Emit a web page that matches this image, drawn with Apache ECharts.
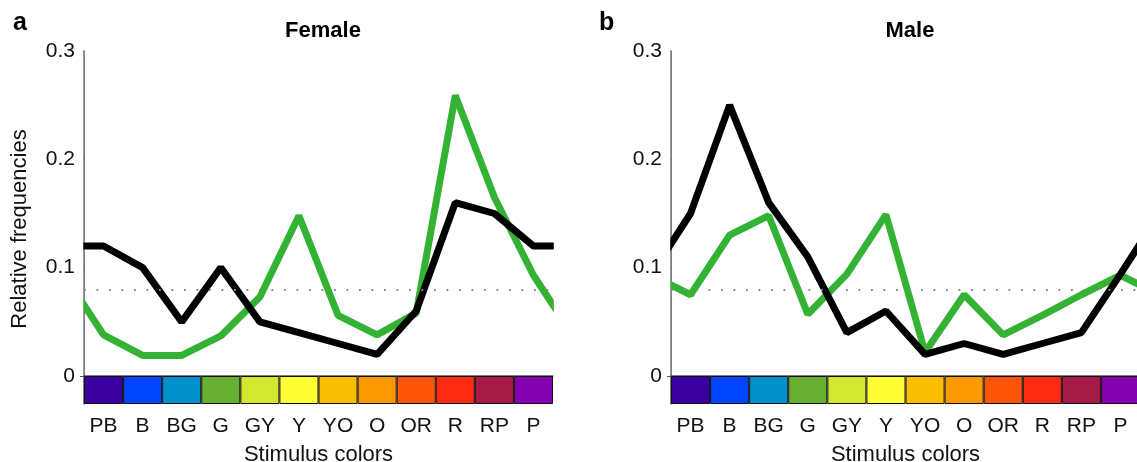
<!DOCTYPE html>
<html>
<head>
<meta charset="utf-8">
<script src="https://cdn.jsdelivr.net/npm/echarts@6/dist/echarts.min.js"></script>
<style>
  html, body { margin: 0; padding: 0; background: #fff; }
  #chart { width: 1137px; height: 462px; }
</style>
</head>
<body>
<div id="chart"></div>
<script>
// stimulus colour categories (hue circle, PB ... P)
var categories = ['PB', 'B', 'BG', 'G', 'GY', 'Y', 'YO', 'O', 'OR', 'R', 'RP', 'P'];
var swatchColors = ['#3d00a0', '#0044ff', '#0091cc', '#67b032', '#d2e82c', '#ffff33',
                    '#fbbd00', '#fb9900', '#ff5508', '#ff2a14', '#a61a48', '#8400ae'];
var yTicks = [0, 0.1, 0.2, 0.3];
var chanceLevel = 1 / 12;

// relative frequencies
var femaleGreen = [0.038, 0.019, 0.019, 0.037, 0.073, 0.148, 0.056, 0.038, 0.058, 0.259, 0.165, 0.093];
var femaleBlack = [0.120, 0.100, 0.050, 0.100, 0.050, 0.040, 0.030, 0.020, 0.060, 0.160, 0.150, 0.120];
var maleGreen   = [0.075, 0.130, 0.148, 0.057, 0.094, 0.149, 0.022, 0.075, 0.038, 0.056, 0.075, 0.093];
var maleBlack   = [0.150, 0.250, 0.160, 0.110, 0.040, 0.060, 0.020, 0.030, 0.020, 0.030, 0.040, 0.094];

var font = "'Liberation Sans', Arial, Helvetica, sans-serif";

// hue axis is circular: repeat last/first value outside the range, grid clips it
function wrap(vals) {
  var out = [[-1, vals[vals.length - 1]]];
  vals.forEach(function (v, i) { out.push([i, v]); });
  out.push([vals.length, vals[0]]);
  return out;
}

var panels = [
  { left: 84, green: femaleGreen, black: femaleBlack },
  { left: 671, green: maleGreen, black: maleBlack }
];
var plotW = 469, plotTop = 51, plotH = 325, swTop = 376, swH = 28;

var grid = [], xAxis = [], yAxis = [], series = [], masks = [];

panels.forEach(function (p, k) {
  var gMain = k * 2, gSw = k * 2 + 1;
  grid.push({ left: p.left, top: plotTop, width: plotW, height: plotH, outerBoundsMode: 'none' });
  grid.push({ left: p.left, top: swTop, width: plotW, height: swH, outerBoundsMode: 'none' });

  xAxis.push({
    gridIndex: gMain, type: 'value', min: -0.5, max: 11.5,
    axisLine: { show: true, onZero: false, lineStyle: { color: '#555', width: 1.5 } },
    axisTick: { show: false }, axisLabel: { show: false }, splitLine: { show: false }
  });
  xAxis.push({
    gridIndex: gSw, type: 'category', data: categories,
    name: 'Stimulus colors', nameLocation: 'middle', nameGap: 40,
    nameTextStyle: { fontSize: 22, color: '#111', fontFamily: font },
    axisLine: { show: false }, axisTick: { show: false },
    axisLabel: { interval: 0, fontSize: 21, color: '#111', fontFamily: font, margin: 12 }
  });

  yAxis.push({
    gridIndex: gMain, type: 'value', min: 0, max: 0.3, interval: 0.1,
    axisLine: { show: true, onZero: false, lineStyle: { color: '#555', width: 1.5 } },
    axisTick: { show: true, length: 4, lineStyle: { color: '#555' } },
    axisLabel: { fontSize: 21, color: '#111', fontFamily: font, margin: 9,
      formatter: function (v) { var r = Math.round(v * 10) / 10; return yTicks.indexOf(r) >= 0 ? String(r) : ''; } },
    splitLine: { show: false }
  });
  yAxis.push({
    gridIndex: gSw, type: 'value', min: 0, max: 1,
    axisLine: { show: true, onZero: false, lineStyle: { color: '#555', width: 1.5 } },
    axisTick: { show: false }, axisLabel: { show: false }, splitLine: { show: false }
  });

  series.push({
    type: 'bar', xAxisIndex: gSw, yAxisIndex: gSw,
    barCategoryGap: '0%', silent: true,
    data: swatchColors.map(function (c) {
      return { value: 1, itemStyle: { color: c, borderColor: '#111', borderWidth: 1 } };
    })
  });
  series.push({
    type: 'line', xAxisIndex: gMain, yAxisIndex: gMain,
    data: wrap(p.green), symbol: 'none', clip: true,
    lineStyle: { color: '#33b233', width: 7 },
    markLine: {
      silent: true, symbol: 'none', label: { show: false },
      lineStyle: { color: '#888', width: 1.8, type: [1.8, 10.7] },
      data: [{ yAxis: chanceLevel }]
    }
  });
  series.push({
    type: 'line', xAxisIndex: gMain, yAxisIndex: gMain,
    data: wrap(p.black), symbol: 'none', clip: true,
    lineStyle: { color: '#000', width: 7 }
  });

  // hide the line-width overflow of the clip box at the plot edges
  masks.push({ type: 'rect', z: 100, silent: true,
    shape: { x: p.left - 6, y: plotTop - 6, width: 5.2, height: plotH + 6 }, style: { fill: '#fff' } });
  masks.push({ type: 'rect', z: 100, silent: true,
    shape: { x: p.left + plotW + 0.8, y: plotTop - 6, width: 6, height: plotH + 6 }, style: { fill: '#fff' } });
});

var chart = echarts.init(document.getElementById('chart'));
chart.setOption({
  animation: false,
  textStyle: { fontFamily: font },
  title: [
    { text: 'a', left: 8, top: 6, textStyle: { fontSize: 25, fontWeight: 'bold', color: '#000', fontFamily: font } },
    { text: 'b', left: 594, top: 6, textStyle: { fontSize: 25, fontWeight: 'bold', color: '#000', fontFamily: font } },
    { text: 'Female', left: 318, top: 15, textAlign: 'center', textStyle: { fontSize: 22, fontWeight: 'bold', color: '#000', fontFamily: font } },
    { text: 'Male', left: 905, top: 15, textAlign: 'center', textStyle: { fontSize: 22, fontWeight: 'bold', color: '#000', fontFamily: font } }
  ],
  graphic: masks.concat([{
    type: 'text', x: 20, y: 229, rotation: Math.PI / 2,
    style: { text: 'Relative frequencies', fontSize: 22, fill: '#111', fontFamily: font,
             align: 'center', verticalAlign: 'middle' }
  }]),
  grid: grid,
  xAxis: xAxis,
  yAxis: yAxis,
  series: series
});
window.addEventListener('resize', function () { chart.resize(); });
</script>
</body>
</html>
